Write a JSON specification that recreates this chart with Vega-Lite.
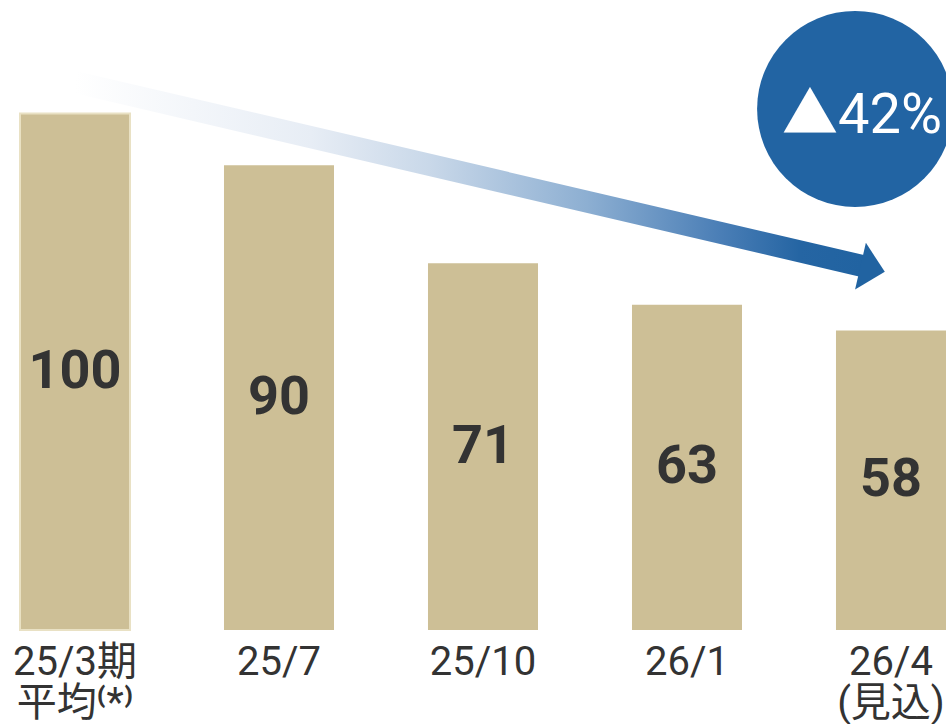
{
  "$schema": "https://vega.github.io/schema/vega-lite/v6.json",
  "width": 946,
  "height": 630,
  "autosize": {"type": "none"},
  "padding": {"left": 0, "top": 0, "right": 0, "bottom": 94},
  "background": "#ffffff",
  "config": {"view": {"stroke": null}},
  "datasets": {
    "bars": [
      {"period": "25/3期|平均⁽*⁾", "value": 100},
      {"period": "25/7", "value": 90},
      {"period": "25/10", "value": 71},
      {"period": "26/1", "value": 63},
      {"period": "26/4|(見込)", "value": 58}
    ],
    "arrow": [
      {"pos": 0, "level": 106.1},
      {"pos": 3.86, "level": 70.5}
    ],
    "head": [{"pos": 3.91, "level": 69.9}],
    "badge": [{"pos": 3.824, "level": 100.9, "label": "▲42%"}]
  },
  "resolve": {"scale": {"x": "independent", "y": "independent"}},
  "layer": [
    {
      "data": {"name": "bars"},
      "mark": {"type": "bar", "color": "#CDBF96", "strokeWidth": 2},
      "encoding": {
        "x": {
          "field": "period", "type": "nominal", "sort": null,
          "scale": {"type": "band", "paddingInner": 0.4607, "paddingOuter": 0.049, "align": 1},
          "axis": {
            "title": null, "domain": false, "ticks": false,
            "labelExpr": "split(datum.value, '|')",
            "labelFont": "Roboto, Noto Sans CJK JP",
            "labelFontSize": 40, "labelColor": "#333333",
            "labelPadding": 12, "labelLineHeight": 41, "labelAngle": 0,
            "labelBaseline": "top"
          }
        },
        "y": {
          "field": "value", "type": "quantitative",
          "scale": {"domain": [0, 122], "nice": false},
          "axis": null
        },
        "stroke": {
          "condition": {"test": "datum.value == 100", "value": "#E9E1C4"},
          "value": null
        }
      }
    },
    {
      "data": {"name": "bars"},
      "mark": {"type": "text", "font": "Roboto", "fontSize": 54, "fontWeight": "bold", "color": "#333333", "baseline": "middle"},
      "encoding": {
        "x": {"field": "period", "type": "nominal", "sort": null,
          "scale": {"type": "band", "paddingInner": 0.4607, "paddingOuter": 0.049, "align": 1}, "axis": null},
        "y": {"field": "value", "type": "quantitative", "scale": {"domain": [0, 244], "nice": false}, "axis": null},
        "text": {"field": "value", "type": "quantitative"}
      }
    },
    {
      "data": {"name": "arrow"},
      "mark": {
        "type": "line", "strokeWidth": 22, "strokeCap": "butt",
        "stroke": {
          "gradient": "linear", "x1": 0, "y1": 0, "x2": 1, "y2": 0,
          "stops": [
            {"offset": 0, "color": "#ffffff"},
            {"offset": 0.3, "color": "#E7EDF5"},
            {"offset": 0.45, "color": "#C9D8E9"},
            {"offset": 0.65, "color": "#8DAFD2"},
            {"offset": 0.82, "color": "#4A7EB6"},
            {"offset": 0.92, "color": "#2565A3"},
            {"offset": 1, "color": "#2163A1"}
          ]
        }
      },
      "encoding": {
        "x": {"field": "pos", "type": "quantitative", "scale": {"domain": [-0.3676, 4.2696], "nice": false, "zero": false}, "axis": null},
        "y": {"field": "level", "type": "quantitative", "scale": {"domain": [0, 122], "nice": false}, "axis": null}
      }
    },
    {
      "data": {"name": "head"},
      "mark": {"type": "point", "filled": true, "opacity": 1, "color": "#2163A1", "shape": "M-0.52,-1L0.52,0L-0.52,1Z", "size": 2304, "angle": 13, "strokeWidth": 0},
      "encoding": {
        "x": {"field": "pos", "type": "quantitative", "scale": {"domain": [-0.3676, 4.2696], "nice": false, "zero": false}, "axis": null},
        "y": {"field": "level", "type": "quantitative", "scale": {"domain": [0, 122], "nice": false}, "axis": null}
      }
    },
    {
      "data": {"name": "badge"},
      "mark": {"type": "point", "filled": true, "opacity": 1, "color": "#2264A3", "shape": "circle", "size": 38416, "strokeWidth": 0},
      "encoding": {
        "x": {"field": "pos", "type": "quantitative", "scale": {"domain": [-0.3676, 4.2696], "nice": false, "zero": false}, "axis": null},
        "y": {"field": "level", "type": "quantitative", "scale": {"domain": [0, 122], "nice": false}, "axis": null}
      }
    },
    {
      "data": {"name": "badge"},
      "mark": {"type": "text", "font": "Roboto, Noto Sans CJK JP", "fontSize": 56, "color": "#ffffff", "baseline": "middle", "align": "center", "dx": 7, "dy": 7},
      "encoding": {
        "x": {"field": "pos", "type": "quantitative", "scale": {"domain": [-0.3676, 4.2696], "nice": false, "zero": false}, "axis": null},
        "y": {"field": "level", "type": "quantitative", "scale": {"domain": [0, 122], "nice": false}, "axis": null},
        "text": {"field": "label"}
      }
    }
  ]
}
